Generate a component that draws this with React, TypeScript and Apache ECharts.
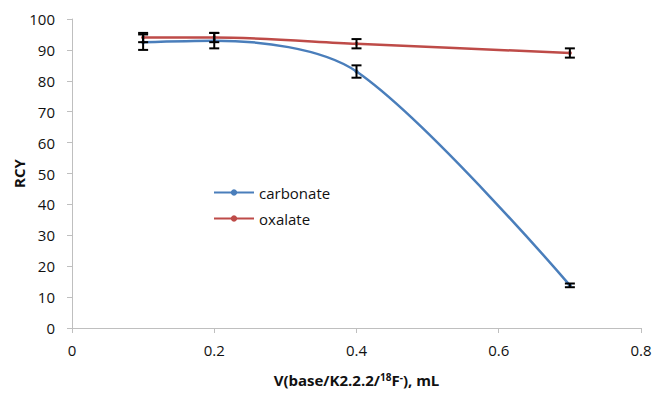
import React, { useEffect, useRef } from "react";
import * as echarts from "echarts";

const xValues = [0.1, 0.2, 0.4, 0.7];
const carbonate = [92.5, 93, 83, 13.8];
const carbonateErr = [2.5, 2.5, 2, 0.6];
const oxalate = [94, 94, 92, 89];
const oxalateErr = [1.5, 1.5, 1.5, 1.5];
const yTicks = [0, 10, 20, 30, 40, 50, 60, 70, 80, 90, 100];

const FONT = "'Open Sans', 'Noto Sans', sans-serif";

export default function App() {
  const ref = useRef<HTMLDivElement>(null);
  useEffect(() => {
    if (!ref.current) return;
    const chart = echarts.init(ref.current, undefined, { renderer: "svg" });
    const errData: number[][] = [];
    xValues.forEach((x, i) => {
      errData.push([x, carbonate[i] - carbonateErr[i], carbonate[i] + carbonateErr[i]]);
      errData.push([x, oxalate[i] - oxalateErr[i], oxalate[i] + oxalateErr[i]]);
    });
    chart.setOption({
      animation: false,
      backgroundColor: "#ffffff",
      grid: { left: 72, right: 13, top: 19, bottom: 67, containLabel: false, outerBoundsMode: "none" },
      legend: {
        orient: "vertical",
        left: 208,
        top: 180,
        itemGap: 11,
        itemWidth: 40,
        itemHeight: 8,
        textStyle: { fontFamily: FONT, fontSize: 15, color: "#111" },
        data: ["carbonate", "oxalate"],
      },
      xAxis: {
        type: "value",
        min: 0,
        max: 0.8,
        interval: 0.2,
        name: "V(base/K2.2.2/{sup|18}F{sup|-}), mL",
        nameLocation: "middle",
        nameGap: 44,
        nameTextStyle: {
          fontFamily: FONT,
          fontSize: 15,
          fontWeight: "bold",
          color: "#111",
          rich: {
            sup: { fontSize: 10, verticalAlign: "top", fontWeight: "bold", color: "#111", padding: [0, 0, 6, 0] },
          },
        },
        axisLine: { show: true, lineStyle: { color: "#bfbfbf", width: 1 } },
        axisTick: { show: true, length: 5, lineStyle: { color: "#bfbfbf" } },
        splitLine: { show: false },
        axisLabel: {
          fontFamily: FONT,
          fontSize: 15,
          color: "#111",
          margin: 14,
          formatter: (v: number) => (v === 0 ? "0" : String(Number(v.toFixed(1)))),
        },
      },
      yAxis: {
        type: "value",
        min: 0,
        max: 100,
        interval: 10,
        name: "RCY",
        nameLocation: "middle",
        nameGap: 46,
        nameMoveOverlap: false,
        nameTextStyle: { fontFamily: FONT, fontSize: 15, fontWeight: "bold", color: "#111" },
        axisLine: { show: true, lineStyle: { color: "#bfbfbf", width: 1 } },
        axisTick: { show: true, length: 5, lineStyle: { color: "#bfbfbf" } },
        splitLine: { show: false },
        axisLabel: {
          fontFamily: FONT,
          fontSize: 15,
          color: "#111",
          margin: 17,
          formatter: (v: number) => (yTicks.includes(v) ? String(v) : ""),
        },
      },
      series: [
        {
          name: "carbonate",
          type: "line",
          data: xValues.map((x, i) => [x, carbonate[i]]),
          smooth: 0.3,
          symbol: "circle",
          symbolSize: 4,
          itemStyle: { color: "#4a7ebb" },
          lineStyle: { color: "#4a7ebb", width: 2.5 },
          z: 2,
        },
        {
          name: "oxalate",
          type: "line",
          data: xValues.map((x, i) => [x, oxalate[i]]),
          smooth: 0.3,
          symbol: "circle",
          symbolSize: 4,
          itemStyle: { color: "#be4b48" },
          lineStyle: { color: "#be4b48", width: 2.5 },
          z: 3,
        },
        {
          name: "err",
          type: "custom",
          z: 4,
          data: errData,
          renderItem: (params: any, api: any) => {
            const x = api.value(0);
            const lo = api.coord([x, api.value(1)]);
            const hi = api.coord([x, api.value(2)]);
            const w = 5;
            const style = { stroke: "#000", lineWidth: 2 };
            return {
              type: "group",
              children: [
                { type: "line", shape: { x1: lo[0], y1: lo[1], x2: hi[0], y2: hi[1] }, style },
                { type: "line", shape: { x1: lo[0] - w, y1: lo[1], x2: lo[0] + w, y2: lo[1] }, style },
                { type: "line", shape: { x1: hi[0] - w, y1: hi[1], x2: hi[0] + w, y2: hi[1] }, style },
              ],
            };
          },
        },
      ],
    });
    return () => chart.dispose();
  }, []);
  return (
    <div
      ref={ref}
      style={{ position: "fixed", left: 0, top: 0, width: 654, height: 395, background: "#fff" }}
    />
  );
}
